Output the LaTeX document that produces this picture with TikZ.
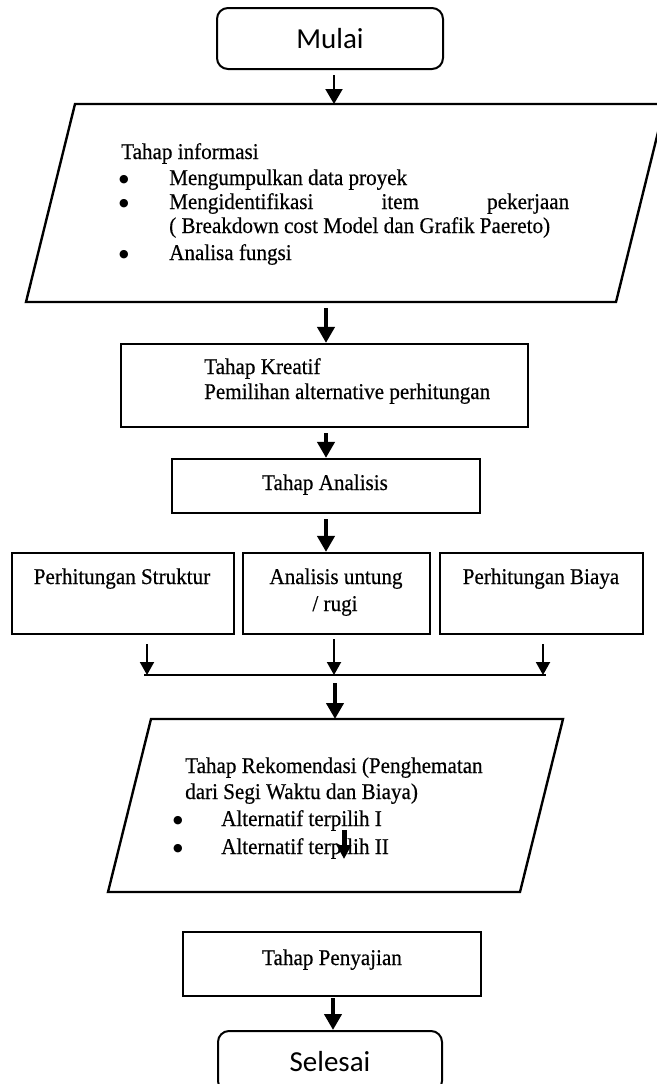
\documentclass[tikz,border=0pt]{standalone}
\usepackage{fontspec}
\setmainfont{Liberation Serif}[FakeStretch=0.938,FakeBold=0.4]
\newfontfamily\calibrifont{Carlito}
\newfontfamily\bulletfont{DejaVu Sans}
\usetikzlibrary{arrows.meta}
\begin{document}
\begin{tikzpicture}[x=1pt,y=-1pt,
  termbox/.style={draw, rounded corners=11pt, line width=2pt, inner sep=0pt,
    font=\calibrifont\fontsize{29}{34}\selectfont},
  procbox/.style={draw, line width=2.2pt, inner sep=0pt},
  ioshape/.style={draw, line width=2.4pt, line join=miter},
  txt/.style={inner sep=0pt, font=\fontsize{22.5}{25}\selectfont},
  bul/.style={inner sep=0pt, font=\bulletfont\fontsize{11}{11}\selectfont},
  thinarrow/.style={line width=2pt, -{Triangle[width=17pt,length=15pt]}},
  thickarrow/.style={line width=4.5pt, -{Triangle[width=17pt,length=16pt]}},
  smallarrow/.style={line width=2pt, -{Triangle[width=14pt,length=13pt]}},
  midarrow/.style={line width=5pt, -{Triangle[width=14pt,length=14pt]}},
  joinline/.style={line width=1.8pt}
]
\useasboundingbox (0,0) rectangle (656,1084);
\fill[white] (0,0) rectangle (656,1084);

% Start
\node[termbox, minimum width=226pt, minimum height=61pt] (mulai) at (330,38.5) {Mulai};

% Parallelogram 1
\coordinate (p1a) at (75,104);
\coordinate (p1b) at (665,104);
\coordinate (p1c) at (616,302);
\coordinate (p1d) at (26,302);
\coordinate (p1top) at (334,104);
\coordinate (p1bot) at (326,302);
\draw[ioshape] (p1a) -- (p1b) -- (p1c) -- (p1d) -- cycle;
\node[txt, anchor=base west] (t1) at (121,159) {Tahap informasi};
\node[bul, anchor=base] (b1a) at (124,182) {●};
\node[txt, anchor=base west] (t2) at (169,185) {Mengumpulkan data proyek};
\node[bul, anchor=base] (b1b) at (124,206) {●};
\node[txt, anchor=base west] (t3) at (169,209) {\hbox to 400pt{Mengidentifikasi\hfill item\hfill pekerjaan}};
\node[txt, anchor=base west] (t4) at (169,233) {( Breakdown cost Model dan Grafik Paereto)};
\node[bul, anchor=base] (b1c) at (124,257) {●};
\node[txt, anchor=base west] (t5) at (169,260) {Analisa fungsi};

% Kreatif
\node[procbox, minimum width=407pt, minimum height=83pt] (kreatif) at (324.5,385.5) {};
\node[txt, anchor=base west] (k1) at (204,374) {Tahap Kreatif};
\node[txt, anchor=base west] (k2) at (204,399) {Pemilihan alternative perhitungan};

% Analisis
\node[procbox, minimum width=308pt, minimum height=54pt] (analisis) at (326,486) {};
\node[txt, anchor=base] (a1) at (325,490) {Tahap Analisis};

% Three boxes
\node[procbox, minimum width=222pt, minimum height=81pt] (bx1) at (123,593.5) {};
\node[procbox, minimum width=187pt, minimum height=81pt] (bx2) at (336.5,593.5) {};
\node[procbox, minimum width=203pt, minimum height=81pt] (bx3) at (541.5,593.5) {};
\node[txt, anchor=base] (s1) at (122,584) {Perhitungan Struktur};
\node[txt, anchor=base] (s2) at (336,584) {Analisis untung};
\node[txt, anchor=base] (s2b) at (335,611) {/ rugi};
\node[txt, anchor=base] (s3) at (541,584) {Perhitungan Biaya};

% Join line
\coordinate (jl) at (144,675);
\coordinate (jr) at (546,675);
\coordinate (m1) at (147,675);
\coordinate (m2) at (334,675);
\coordinate (m3) at (543,675);
\draw[joinline] (jl) -- (jr);

% Parallelogram 2
\coordinate (p2a) at (151,719);
\coordinate (p2b) at (563,719);
\coordinate (p2c) at (520,892);
\coordinate (p2d) at (108,892);
\coordinate (p2top) at (335,719);
\draw[ioshape] (p2a) -- (p2b) -- (p2c) -- (p2d) -- cycle;
\node[txt, anchor=base west] (r1) at (185,773) {Tahap Rekomendasi (Penghematan};
\node[txt, anchor=base west] (r2) at (185,799) {dari Segi Waktu dan Biaya)};
\node[bul, anchor=base] (b2a) at (178,823) {●};
\node[txt, anchor=base west] (r3) at (221,826) {Alternatif terpilih I};
\node[bul, anchor=base] (b2b) at (178,851) {●};
\node[txt, anchor=base west] (r4) at (221,854) {Alternatif terpilih II};
\coordinate (sa) at (344,830);
\coordinate (sb) at (344,859);

% Penyajian
\node[procbox, minimum width=298pt, minimum height=64pt] (penyajian) at (332,964) {};
\node[txt, anchor=base] (py) at (332,965) {Tahap Penyajian};

% End
\node[termbox, minimum width=224pt, minimum height=61pt] (selesai) at (330,1061.5) {Selesai};

% Connectors
\draw[thinarrow] ([xshift=4pt,yshift=-5pt]mulai.south) -- (p1top);
\draw[thickarrow] ([yshift=-6pt]p1bot) -- ([xshift=1.5pt]kreatif.north);
\draw[thickarrow] ([xshift=1.5pt,yshift=-5pt]kreatif.south) -- (analisis.north);
\draw[thickarrow] ([yshift=-5pt]analisis.south) -- ([xshift=-10.5pt]bx2.north);
\draw[smallarrow] ([xshift=24pt,yshift=-9pt]bx1.south) -- (m1);
\draw[smallarrow] ([xshift=-2.5pt,yshift=-4pt]bx2.south) -- (m2);
\draw[smallarrow] ([xshift=1.5pt,yshift=-9pt]bx3.south) -- (m3);
\draw[thickarrow] ([xshift=1pt,yshift=-8pt]m2) -- (p2top);
\draw[midarrow] (sa) -- (sb);
\draw[thickarrow] ([xshift=1pt,yshift=-1pt]penyajian.south) -- ([xshift=3pt]selesai.north);
\end{tikzpicture}
\end{document}
